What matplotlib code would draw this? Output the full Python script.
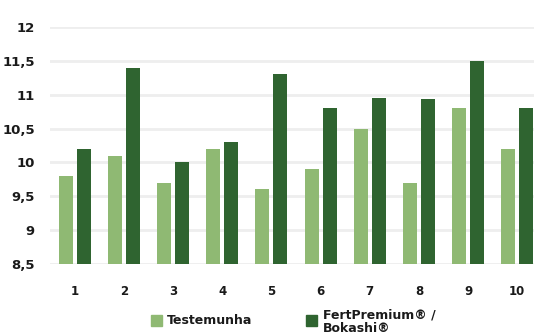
import matplotlib.pyplot as plt
import numpy as np
from matplotlib.patches import Rectangle

plt.rcParams['font.family'] = ['DejaVu Sans']

GROUPS = ["1", "2", "3", "4", "5", "6", "7", "8", "9", "10"]
TESTEMUNHA = [9.8, 10.1, 9.7, 10.2, 9.6, 9.9, 10.5, 9.7, 10.8, 10.2]
FERTPREMIUM = [10.2, 11.4, 10.0, 10.3, 11.3, 10.8, 10.95, 10.93, 11.5, 10.8]
Y_TICKS = [8.5, 9, 9.5, 10, 10.5, 11, 11.5, 12]
Y_LABELS = ["8,5", "9", "9,5", "10", "10,5", "11", "11,5", "12"]

LIGHT = "#8fb973"
DARK = "#2f6430"
BASE = 8.5

fig = plt.figure(figsize=(5.34, 3.35), dpi=100)
ax = fig.add_axes([0.0936, 0.212, 0.9064, 0.7075])

x = np.arange(1, len(GROUPS) + 1)
w = 0.285
off = 0.183
ax.bar(x - off, np.array(TESTEMUNHA) - BASE, w, bottom=BASE, color=LIGHT, zorder=3)
ax.bar(x + off, np.array(FERTPREMIUM) - BASE, w, bottom=BASE, color=DARK, zorder=3)

ax.set_xlim(0.5, 10.34)
ax.set_ylim(BASE, 12)
ax.set_yticks(Y_TICKS)
ax.set_yticklabels(Y_LABELS, fontsize=9.5, fontweight="bold", color="#1a1a1a")
ax.set_xticks(x)
ax.set_xticklabels(GROUPS, fontsize=8.5, fontweight="bold", color="#1a1a1a")
ax.tick_params(axis="y", length=0, pad=11)
ax.tick_params(axis="x", length=0, pad=15)
ax.yaxis.grid(True, color="#eeeeee", linewidth=2, zorder=0)
for s in ax.spines.values():
    s.set_visible(False)

# legend drawn by hand to keep the two-line label layout
fig.patches.append(Rectangle((151 / 534, 1 - 326 / 335), 11 / 534, 11 / 335,
                             transform=fig.transFigure, color=LIGHT))
fig.text(167 / 534, 1 - 320 / 335, "Testemunha", fontsize=9, fontweight="bold",
         va="center", ha="left", color="#1a1a1a")
fig.patches.append(Rectangle((306 / 534, 1 - 326 / 335), 11 / 534, 11 / 335,
                             transform=fig.transFigure, color=DARK))
fig.text(323 / 534, 1 - 322 / 335, "FertPremium® /\nBokashi®", fontsize=9,
         fontweight="bold", va="center", ha="left", color="#1a1a1a", linespacing=1.0)

fig.savefig("out.png", dpi=100)
